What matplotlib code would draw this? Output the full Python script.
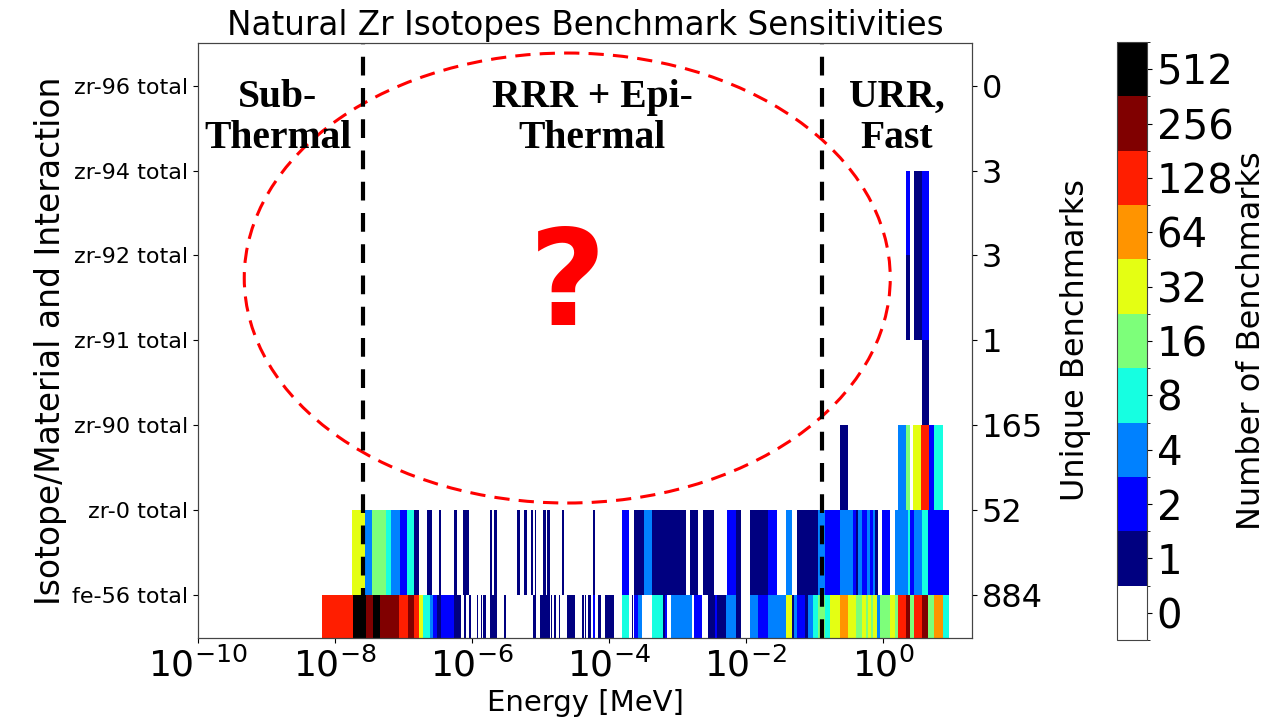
import numpy as np
import matplotlib
matplotlib.use("Agg")
import matplotlib.pyplot as plt
from matplotlib.colors import ListedColormap, BoundaryNorm
from matplotlib.patches import Ellipse
from matplotlib.cm import ScalarMappable

# Rows, bottom to top
row_labels = ["fe-56 total", "zr-0 total", "zr-90 total", "zr-91 total",
              "zr-92 total", "zr-94 total", "zr-96 total"]
unique_benchmarks = [884, 52, 165, 1, 3, 3, 0]

# Sensitivity bins per row: group edges in log10(E / MeV) and benchmark counts
fe56_edges = [-8.19, -7.74, -7.55, -7.45, -7.34, -7.06, -6.94, -6.85, -6.78, -6.72,
              -6.61, -6.57, -6.51, -6.45, -6.26, -6.16, -6.11, -6.09, -6.04, -6.02,
              -5.93, -5.91, -5.87, -5.85, -5.84, -5.80, -5.74, -5.64, -5.53, -5.51,
              -5.11, -5.07, -5.01, -4.86, -4.85, -4.83, -4.80, -4.78, -4.73, -4.71,
              -4.61, -4.49, -4.40, -4.37, -4.35, -4.33, -4.30, -4.26, -4.24, -4.20,
              -4.16, -4.11, -4.06, -3.92, -3.81, -3.71, -3.67, -3.65, -3.64, -3.57,
              -3.52, -3.37, -3.21, -3.18, -3.16, -3.09, -2.79, -2.76, -2.64, -2.55,
              -2.45, -2.42, -2.29, -2.14, -2.07, -1.94, -1.82, -1.68, -1.42, -1.33,
              -1.30, -1.25, -1.14, -1.10, -1.02, -0.95, -0.85, -0.78, -0.62, -0.51,
              -0.39, -0.31, -0.25, -0.22, -0.18, -0.15, -0.08, -0.05, 0.10, 0.17,
              0.22, 0.33, 0.39, 0.45, 0.57, 0.66, 0.75, 0.88, 0.97]
fe56_counts = [128, 512, 256, 512, 256, 128, 256, 128, 32, 8,
               4, 2, 1, 2, 1, 0, 1, 0, 1, 0,
               1, 0, 1, 0, 1, 0, 1, 0, 1, 0,
               1, 0, 1, 0, 1, 0, 1, 0, 1, 0,
               1, 0, 1, 0, 1, 0, 1, 0, 2, 0,
               1, 0, 1, 0, 8, 0, 1, 0, 2, 4,
               0, 8, 1, 2, 0, 4, 0, 2, 0, 1,
               2, 1, 4, 1, 0, 4, 2, 4, 32, 1,
               4, 2, 1, 4, 8, 16, 8, 32, 64, 32,
               16, 32, 16, 32, 16, 32, 4, 16, 32, 16,
               128, 256, 16, 128, 256, 16, 64, 8]

zr0_edges = [-7.75, -7.56, -7.46, -7.26, -7.18, -7.05, -6.95, -6.85, -6.78, -6.66,
             -6.59, -6.48, -6.45, -6.27, -6.22, -6.13, -6.05, -5.74, -5.71, -5.68,
             -5.64, -5.35, -5.30, -5.24, -5.20, -5.14, -5.11, -5.08, -5.06, -4.96,
             -4.92, -4.90, -4.86, -4.69, -4.65, -4.24, -4.21, -3.81, -3.71, -3.64,
             -3.49, -3.37, -2.87, -2.81, -2.70, -2.63, -2.47, -2.28, -2.14, -2.07,
             -1.94, -1.68, -1.55, -1.42, -1.33, -1.25, -0.95, -0.85, -0.63, -0.44,
             -0.39, -0.36, -0.31, -0.23, -0.19, -0.15, -0.11, -0.07, -0.02, 0.10,
             0.11, 0.17, 0.37, 0.40, 0.45, 0.57, 0.66, 0.97]
zr0_counts = [32, 4, 16, 8, 4, 2, 8, 1, 0, 1,
              0, 1, 0, 1, 0, 1, 0, 1, 0, 1,
              0, 1, 0, 1, 0, 1, 0, 1, 0, 1,
              0, 1, 0, 1, 0, 1, 0, 2, 0, 1,
              4, 1, 0, 1, 0, 1, 0, 2, 1, 0,
              1, 2, 0, 4, 0, 1, 4, 2, 4, 2,
              1, 4, 2, 4, 2, 4, 1, 0, 2, 1,
              0, 4, 8, 2, 4, 8, 2]

zr90_edges = [-0.63, -0.51, 0.22, 0.33, 0.39, 0.44, 0.56, 0.67, 0.75, 0.88]
zr90_counts = [1, 0, 4, 16, 0, 32, 128, 2, 8]

zr91_edges = [0.57, 0.67]
zr91_counts = [1]

zr92_edges = [0.33, 0.40, 0.45, 0.57, 0.67]
zr92_counts = [1, 0, 1, 2]

zr94_edges = [0.33, 0.40, 0.45, 0.57, 0.67]
zr94_counts = [2, 0, 1, 2]

zr96_edges = []
zr96_counts = []

row_edges = [fe56_edges, zr0_edges, zr90_edges, zr91_edges, zr92_edges, zr94_edges, zr96_edges]
row_counts = [fe56_counts, zr0_counts, zr90_counts, zr91_counts, zr92_counts, zr94_counts, zr96_counts]

# Region boundaries (MeV): thermal point and upper resolved-resonance limit
region_bounds = [2.53e-8, 1.27e-1]

cbar_labels = ["0", "1", "2", "4", "8", "16", "32", "64", "128", "256", "512"]

# Discrete colour scale: white for zero, jet bands, black for the top band
colors = [(1, 1, 1, 1)] + [tuple(c) for c in plt.cm.jet(np.linspace(0, 1, 9))] + [(0, 0, 0, 1)]
cmap = ListedColormap(colors)
norm = BoundaryNorm(np.arange(-0.5, len(colors) + 0.5, 1), cmap.N)


def count_level(counts):
    c = np.asarray(counts, dtype=float)
    lvl = np.zeros_like(c)
    pos = c > 0
    lvl[pos] = np.floor(np.log2(c[pos])) + 1
    return lvl


fig = plt.figure(figsize=(12.72, 7.24), dpi=100)
ax = fig.add_axes([0.1557, 0.1188, 0.6085, 0.8218])

for i, (edges, counts) in enumerate(zip(row_edges, row_counts)):
    if len(counts) == 0:
        continue
    x = 10.0 ** np.asarray(edges)
    y = np.array([i - 1, i])
    ax.pcolormesh(x, y, count_level(counts)[np.newaxis, :], cmap=cmap, norm=norm,
                  shading="flat", linewidth=0, antialiased=False)

ax.set_xscale("log")
ax.set_xlim(1e-10, 20)
ax.set_ylim(-0.5, len(row_labels) - 0.5)
ax.set_xticks([1e-10, 1e-8, 1e-6, 1e-4, 1e-2, 1e0])
ax.xaxis.set_minor_locator(matplotlib.ticker.NullLocator())
ax.tick_params(axis="x", labelsize=26)
ax.set_yticks(range(len(row_labels)))
ax.set_yticklabels(row_labels, fontsize=16)
ax.set_xlabel("Energy [MeV]", fontsize=21)
ax.set_ylabel("Isotope/Material and Interaction", fontsize=23.7)
ax.set_title("Natural Zr Isotopes Benchmark Sensitivities", fontsize=23.5)
for s in ax.spines.values():
    s.set_color("#444444")

# Region separators
for xb in region_bounds:
    ln = ax.axvline(xb, color="black", lw=3)
    ln.set_dashes((4.5, 3))

# Region names
tfont = dict(family=["Liberation Serif", "DejaVu Serif"], weight="bold", fontsize=28.5,
             ha="center", va="center", linespacing=1.13, transform=ax.transAxes)
ax.text(0.103, 0.874, "Sub-\nThermal", **tfont)
ax.text(0.509, 0.874, "RRR + Epi-\nThermal", **tfont)
ax.text(0.903, 0.874, "URR,\nFast", **tfont)

# Missing-data region
ell = Ellipse((0.477, 0.605), 0.8346, 0.7563, transform=ax.transAxes,
              fill=False, edgecolor="red", lw=2.2, linestyle=(0, (5, 3)))
ax.add_patch(ell)
ax.text(0.477, 0.588, "?", color="red", fontsize=96, fontweight="bold",
        ha="center", va="center", transform=ax.transAxes)

# Unique benchmark counts on the right
ax2 = ax.twinx()
ax2.set_ylim(ax.get_ylim())
ax2.set_yticks(range(len(row_labels)))
ax2.set_yticklabels([str(u) for u in unique_benchmarks], fontsize=23)
ax2.set_ylabel("Unique Benchmarks", fontsize=23, labelpad=12)
for s in ax2.spines.values():
    s.set_color("#444444")

cax = fig.add_axes([0.878, 0.116, 0.0236, 0.826])
sm = ScalarMappable(norm=norm, cmap=cmap)
cb = fig.colorbar(sm, cax=cax, ticks=np.arange(len(colors)))
cb.ax.set_yticklabels(cbar_labels)
cb.ax.tick_params(labelsize=29)
cb.set_label("Number of Benchmarks", fontsize=23)
cb.ax.yaxis.set_label_coords(3.97, 0.5)
cb.outline.set_edgecolor("#444444")

fig.savefig("out.png", dpi=100)
